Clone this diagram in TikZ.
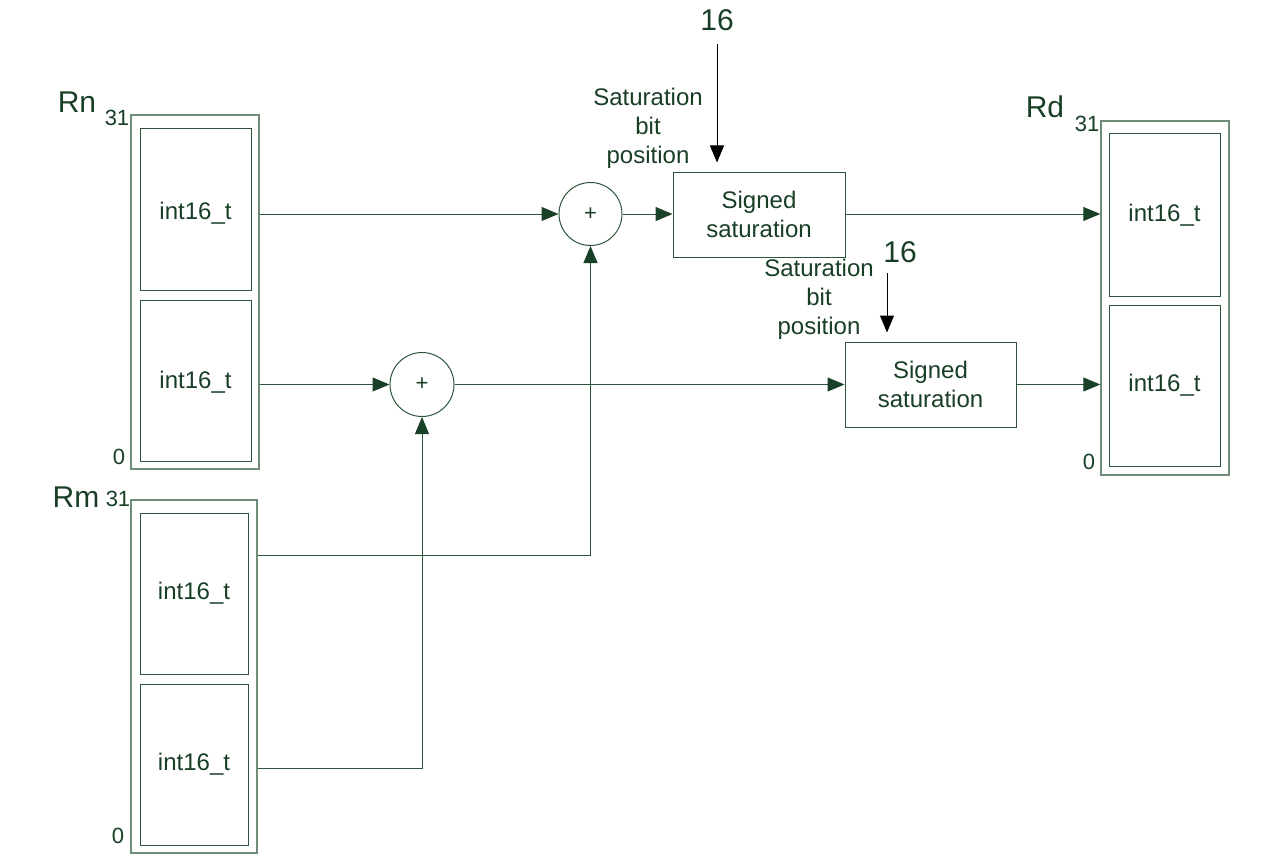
\documentclass[tikz,border=0pt]{standalone}
\usepackage{fontspec}
\setmainfont{Liberation Sans}
\usetikzlibrary{arrows.meta}
\definecolor{txt}{RGB}{25,62,38}
\definecolor{ln}{RGB}{45,85,58}
\definecolor{outl}{RGB}{110,140,120}
\definecolor{tip}{RGB}{25,65,40}
\begin{document}
\begin{tikzpicture}[x=1pt,y=-1pt,
  outerbox/.style={draw=outl, line width=1.4pt, inner sep=0pt},
  innerbox/.style={draw=ln, line width=1pt, inner sep=0pt, text=txt, font=\fontsize{24}{28}\selectfont},
  satbox/.style={draw=ln, line width=1pt, inner sep=0pt, align=center, text=txt, font=\fontsize{24}{29}\selectfont, minimum height=85pt},
  sumnode/.style={circle, draw=ln, line width=1pt, inner sep=0pt, text=txt, font=\fontsize{22}{24}\selectfont},
  reglabel/.style={text=txt, font=\fontsize{30}{32}\selectfont, inner sep=0pt},
  bitlabel/.style={text=txt, font=\fontsize{22}{24}\selectfont, inner sep=0pt},
  satlabel/.style={text=txt, align=center, font=\fontsize{24}{29}\selectfont, inner sep=0pt},
  numlabel/.style={text=txt, font=\fontsize{30}{32}\selectfont, inner sep=0pt},
  conn/.style={draw=ln, line width=1pt},
  arr/.style={conn, -{Triangle[length=17pt,width=14pt,color=tip]}},
  blackarr/.style={draw=black, line width=1pt, -{Triangle[length=17pt,width=14pt]}}
]
\useasboundingbox (0,0) rectangle (1282,864);

% Rn register
\node[outerbox, minimum width=128pt, minimum height=354pt] (rn) at (195,292) {};
\node[innerbox, minimum width=111pt, minimum height=161pt] (rnA) at (195.5,209.5) {};
\node[innerbox, minimum width=111pt, minimum height=161pt] (rnB) at (195.5,380.5) {};
\node[innerbox, draw=none] (rnAt) at (195.5,213) {int16\_t};
\node[innerbox, draw=none] (rnBt) at (195.5,382) {int16\_t};
\node[reglabel] (rnl) at (77,102) {Rn};
\node[bitlabel] (rn31) at (117,118) {31};
\node[bitlabel] (rn0) at (119,457) {0};

% Rm register
\node[outerbox, minimum width=126pt, minimum height=353pt] (rm) at (194,676.5) {};
\node[innerbox, minimum width=108pt, minimum height=161pt] (rmA) at (194,593.5) {int16\_t};
\node[innerbox, minimum width=108pt, minimum height=161pt] (rmB) at (194,764.5) {int16\_t};
\node[reglabel] (rml) at (76,497) {Rm};
\node[bitlabel] (rm31) at (118,499) {31};
\node[bitlabel] (rm0) at (118,836) {0};

% Rd register
\node[outerbox, minimum width=128pt, minimum height=354pt] (rd) at (1165,298) {};
\node[innerbox, minimum width=111pt, minimum height=162pt] (rdA) at (1164.5,215) {int16\_t};
\node[innerbox, minimum width=111pt, minimum height=161pt] (rdB) at (1164.5,385.5) {int16\_t};
\node[reglabel] (rdl) at (1045,107) {Rd};
\node[bitlabel] (rd31) at (1087,124) {31};
\node[bitlabel] (rd0) at (1089,462) {0};

% adders
\node[sumnode, minimum size=63pt] (c1) at (590.5,214) {+};
\node[sumnode, minimum size=64pt] (c2) at (422,384.5) {+};

% saturation boxes
\node[satbox, minimum width=172pt] (s1) at (759,214.5) {Signed\\saturation};
\node[satbox, minimum width=171pt] (s2) at (930.5,384.5) {Signed\\saturation};

% labels
\node[satlabel] (sl1) at (648,128) {Saturation\\bit\\position};
\node[satlabel] (sl2) at (819,299) {Saturation\\bit\\position};
\node[numlabel] (n1) at (717,20) {16};
\node[numlabel] (n2) at (900,252) {16};
\coordinate (t1) at (717,44);
\coordinate (t2) at (887,273);
\draw[blackarr, shorten >=9pt] (t1) -- (t1 |- s1.north);
\draw[blackarr, shorten >=9pt] (t2) -- (t2 |- s2.north);

% connectors
\draw[arr] (rn.east |- c1) -- (c1.west);
\draw[arr] (c1.east) -- (s1.west |- c1);
\draw[arr] (s1.east |- c1) -- (rd.west |- c1);
\draw[arr] (rn.east |- c2) -- (c2.west);
\draw[arr] (c2.east) -- (s2.west |- c2);
\draw[arr] (s2.east |- c2) -- (rd.west |- c2);
\coordinate (m1) at (590.5,555);
\coordinate (m2) at (422,768);
\draw[arr] (rm.east |- m1) -- (m1) -- (c1.south);
\draw[arr] (rm.east |- m2) -- (m2) -- (c2.south);
\end{tikzpicture}
\end{document}
